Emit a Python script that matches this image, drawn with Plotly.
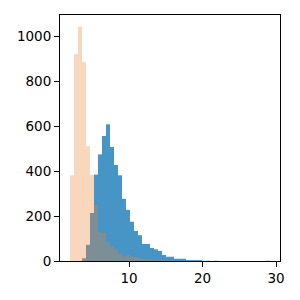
import numpy as np
import plotly.graph_objects as go

# Histogram data (shared 50 bins between data min and max)
data_min = 1.973
data_max = 29.17
n_bins = 50

blue_counts = [0, 0, 0, 12, 72, 214, 385, 475, 557, 609,
               508, 428, 382, 277, 228, 175, 134, 115, 76, 76,
               58, 52, 45, 27, 19, 19, 10, 10, 10, 4,
               4, 4, 4, 1, 1, 0, 1, 0, 0, 0,
               0, 0, 0, 0, 0, 0, 0, 0, 0, 1]

orange_counts = [382, 922, 1044, 886, 512, 383, 250, 130, 125, 85,
                 66, 52, 34, 20, 28, 20, 18, 12, 10, 8,
                 6, 4, 3, 2, 2, 1, 0, 0, 0, 0,
                 0, 0, 0, 0, 0, 0, 0, 0, 0, 0,
                 0, 0, 0, 0, 0, 0, 0, 0, 0, 0]

x_ticks = [10, 20, 30]
y_ticks = [0, 200, 400, 600, 800, 1000]

edges = np.linspace(data_min, data_max, n_bins + 1)
centers = (edges[:-1] + edges[1:]) / 2
width = edges[1] - edges[0]

fig = go.Figure()
fig.add_trace(go.Bar(x=centers, y=blue_counts, width=width,
                     marker=dict(color="rgba(31,125,185,0.82)", line=dict(width=0))))
fig.add_trace(go.Bar(x=centers, y=orange_counts, width=width,
                     marker=dict(color="rgba(235,130,50,0.32)", line=dict(width=0))))

span = data_max - data_min
ymax = max(max(blue_counts), max(orange_counts)) * 1.05

axis_common = dict(showline=True, linecolor="black", linewidth=1, mirror=True,
                   ticks="outside", ticklen=5, tickwidth=1, tickcolor="black",
                   showgrid=False, zeroline=False, automargin=False,
                   tickfont=dict(family="DejaVu Sans", size=13.5, color="black"))

fig.update_layout(
    width=300, height=300,
    margin=dict(l=60, r=20, t=15, b=39),
    paper_bgcolor="white", plot_bgcolor="white",
    barmode="overlay", showlegend=False,
    xaxis=dict(range=[data_min - 0.05 * span, data_max + 0.05 * span],
               tickvals=x_ticks, **axis_common),
    yaxis=dict(range=[0, ymax], tickvals=y_ticks, **axis_common),
)

fig.write_html("out.html", config={"displayModeBar": False},
               post_script="document.body.style.margin='0';document.body.style.padding='0';")
